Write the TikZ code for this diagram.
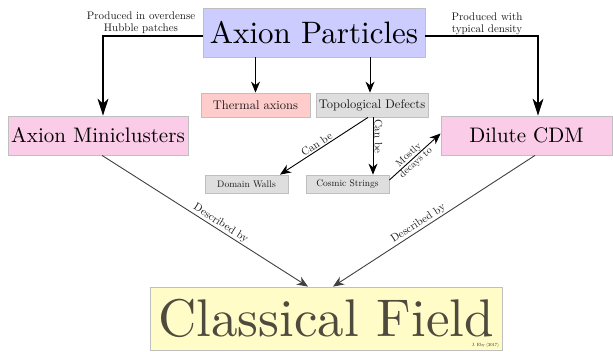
\documentclass[tikz,border=0pt]{standalone}
\usepackage{fontspec}
\setmainfont{lmroman10-regular}[Extension=.otf]
\usetikzlibrary{arrows.meta,calc}
\begin{document}
\begin{tikzpicture}[x=1pt,y=-1pt,
  box/.style={draw=black!25, line width=0.8pt, inner sep=0pt, align=center},
  bigarrow/.style={draw=black, line width=1.3pt, -{Stealth[length=17pt,width=11pt,inset=5pt]}},
  medarrow/.style={draw=black, line width=0.9pt, -{Stealth[length=11pt,width=9pt,inset=3.5pt]}},
  descarrow/.style={draw=black!75, line width=0.9pt, -{Stealth[length=11pt,width=9pt,inset=3.5pt]}},
  lbl/.style={font=\fontsize{11}{12}\selectfont, text=black!90, align=center},
  elbl/.style={font=\fontsize{11}{12}\selectfont, text=black!90, sloped, above, inner sep=1pt}]
\useasboundingbox (0,0) rectangle (613,351);
\node[box, fill=blue!20, minimum width=222pt, minimum height=49pt, font=\fontsize{31}{31}\selectfont] (ap) at (314,32.5) {Axion Particles};
\node[box, fill=red!20, minimum width=109pt, minimum height=24pt, text=black!90, font=\fontsize{12.5}{13}\selectfont] (th) at (255.5,105) {Thermal axions};
\node[box, fill=black!13, minimum width=112pt, minimum height=24pt, text=black!90, font=\fontsize{12.5}{13}\selectfont] (td) at (372,105) {Topological Defects};
\node[box, fill=magenta!20, minimum width=180pt, minimum height=39pt, font=\fontsize{21}{21}\selectfont] (mc) at (98,135.5) {Axion Miniclusters};
\node[box, fill=magenta!20, minimum width=171pt, minimum height=39pt, font=\fontsize{21}{21}\selectfont] (dc) at (526.5,135.5) {Dilute CDM};
\node[box, fill=black!13, minimum width=83pt, minimum height=18pt, text=black!90, font=\fontsize{9.5}{10}\selectfont] (dw) at (246.5,184) {Domain Walls};
\node[box, fill=black!13, minimum width=83pt, minimum height=18pt, text=black!90, font=\fontsize{9.5}{10}\selectfont] (cs) at (347.5,184) {Cosmic Strings};
\node[box, fill=yellow!22, minimum width=352pt, minimum height=63pt, text=black!80!yellow, font=\fontsize{53}{53}\selectfont] (cf) at (326,318.5) {Classical Field};
\node[font=\fontsize{4.5}{5}\selectfont, anchor=south east, inner sep=1pt, text=black!90] (eby) at (500,349) {J. Eby (2017)};

\draw[bigarrow] ([yshift=-3.5pt]ap.west) -| ([xshift=5pt]mc.north);
\node[lbl] (l1) at (141,23) {Produced in overdense\\Hubble patches};
\draw[bigarrow] ([yshift=-3.5pt]ap.east) -| ([xshift=11.5pt]dc.north);
\node[lbl] (l2) at (487,24) {Produced with\\typical density};

\draw[medarrow] (ap.south -| th.north) -- (th.north);
\draw[medarrow] ([xshift=-2pt]td.north |- ap.south) -- ([xshift=-2pt]td.north);
\draw[medarrow] ([xshift=-4pt]td.south) -- node[elbl, pos=0.55]{Can be} ([xshift=33.5pt]dw.north);
\draw[medarrow] ([xshift=1pt]td.south) -- node[elbl, pos=0.33]{Can be} ([xshift=1pt]td.south |- cs.north);
\draw[medarrow] ([yshift=4pt]cs.east) -- node[sloped, font=\fontsize{10}{10.5}\selectfont, text=black!90, align=center, inner sep=1pt, pos=0.45]{Mostly\\decays to} ([yshift=2pt]dc.west);

\draw[descarrow] ([xshift=4pt]mc.south) -- node[elbl,pos=0.56]{Described by} ([xshift=-18pt]cf.north);
\draw[descarrow] ([xshift=8.5pt]dc.south) -- node[elbl,pos=0.56]{Described by} ([xshift=7pt]cf.north);
\end{tikzpicture}
\end{document}
